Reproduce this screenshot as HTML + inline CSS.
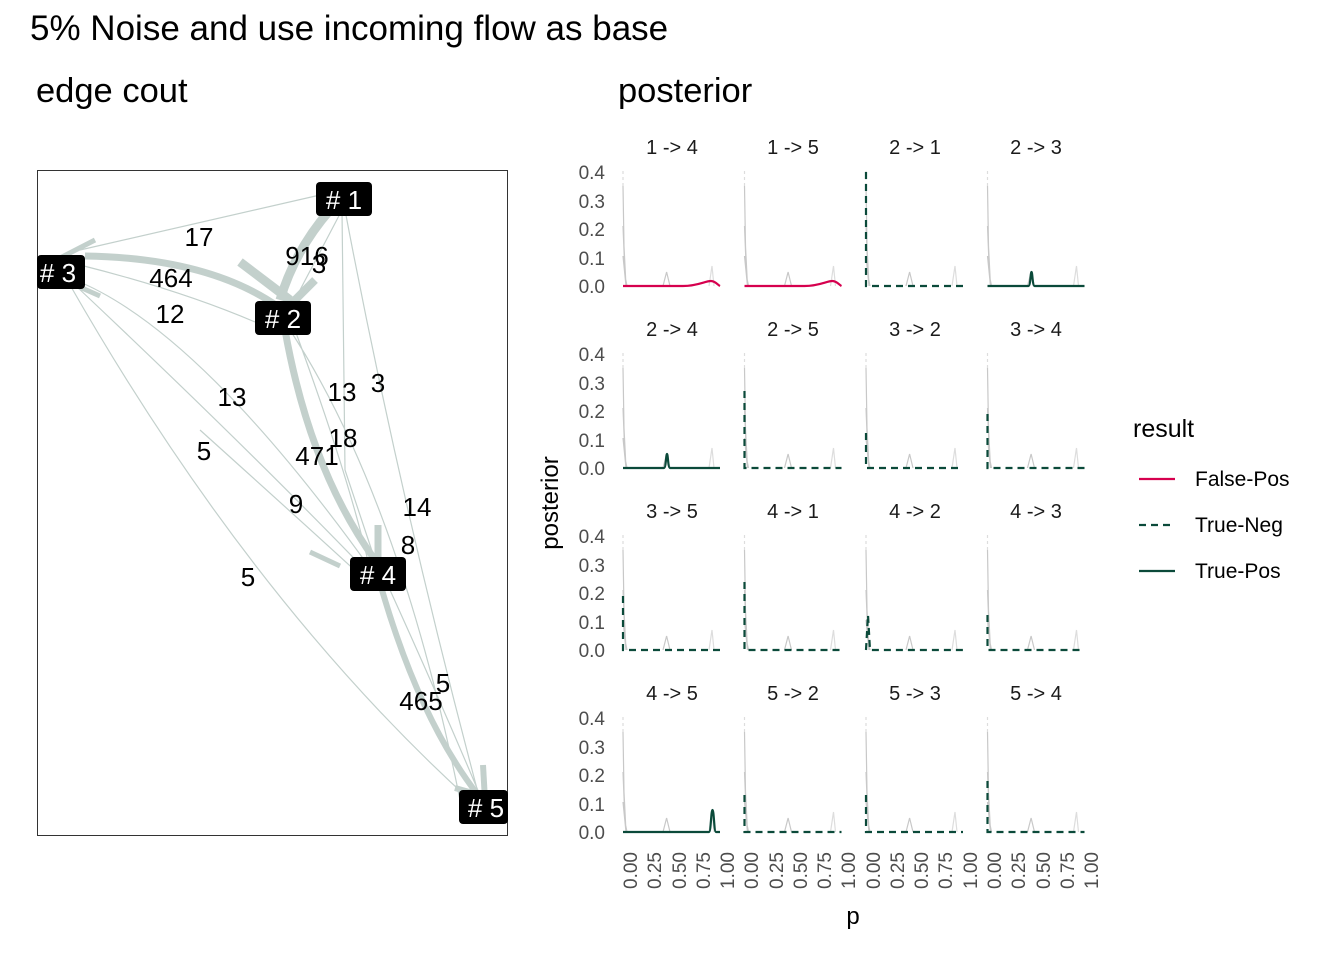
<!DOCTYPE html>
<html><head><meta charset="utf-8"><style>
body{margin:0;background:#fff}
svg{display:block;font-family:"Liberation Sans",Arial,sans-serif}
.t{fill:#4d4d4d;font-size:19px}
.s{fill:#1a1a1a;font-size:20px}
.e{fill:none;stroke:#c3d0cc}
.nl{fill:#000;font-size:26px}
</style></head><body>
<svg width="1344" height="960" viewBox="0 0 1344 960">
<defs>
<g id="bg" fill="none" stroke="#c8c8c8" stroke-width="1.2">
<path d="M0,-115 L0,-100" stroke-dasharray="3,3" stroke="#ddd"/>
<path d="M0,-100 L1,-40 L3,0 M0,-60 L2,-10 L4,0 M0,-30 L3,0"/>
<path d="M40,0 L43.6,-14 L47,0"/>
<path d="M86,0 L89,-20 L91,0" stroke="#ddd"/>
</g>
</defs>
<text x="30" y="40" font-size="35" fill="#000">5% Noise and use incoming flow as base</text>
<text x="36" y="102" font-size="34.5" fill="#000">edge cout</text>
<text x="618" y="102" font-size="34.5" fill="#000">posterior</text>

<!-- network -->
<rect x="37.5" y="170.5" width="470" height="665" fill="none" stroke="#333" stroke-width="1"/>
<g>
<path class="e" stroke-width="7" d="M85,256 Q210,258 280,308"/>
<path class="e" stroke-width="9" d="M330,210 Q295,250 280,300"/>
<path class="e" stroke-width="7" d="M285,330 Q310,470 375,560"/>
<path class="e" stroke-width="6" d="M382,590 Q420,720 478,795"/>
<path class="e" stroke-width="1.2" d="M80,250 L320,195 M80,265 Q180,290 255,322 M75,280 Q200,330 375,575 M75,285 Q250,450 375,580 M70,285 Q250,600 470,800 M342,210 L345,470 L375,560 M345,210 Q400,500 480,800 M290,330 Q400,500 460,800 M295,330 Q350,480 370,570 M200,430 Q300,520 360,575 M390,590 Q440,700 482,800 M342,210 L300,290"/>
<path class="e" stroke-width="9" d="M240,262 L290,300"/>
<path class="e" stroke-width="8" d="M315,280 L290,305"/>
<path class="e" stroke-width="7" d="M378,525 L378,560"/>
<path class="e" stroke-width="6" d="M455,788 L480,795"/>
<path class="e" stroke-width="6" d="M483,765 L485,800"/>
<path class="e" stroke-width="5" d="M95,240 L60,258 M100,296 L75,285 M340,566 L310,552"/>
</g>
<g>
<rect x="316" y="182" width="56" height="34" rx="4" fill="#000"/><text x="344" y="209" fill="#fff" font-size="26" text-anchor="middle"># 1</text>
<rect x="255" y="301" width="56" height="34" rx="4" fill="#000"/><text x="283" y="328" fill="#fff" font-size="26" text-anchor="middle"># 2</text>
<rect x="37" y="255" width="48" height="34" rx="4" fill="#000"/><text x="58" y="282" fill="#fff" font-size="26" text-anchor="middle"># 3</text>
<rect x="350" y="557" width="56" height="34" rx="4" fill="#000"/><text x="378" y="584" fill="#fff" font-size="26" text-anchor="middle"># 4</text>
<rect x="459" y="790" width="49" height="34" rx="4" fill="#000"/><text x="486" y="817" fill="#fff" font-size="26" text-anchor="middle"># 5</text>
</g>
<g class="nl" text-anchor="middle">
<text x="199" y="246">17</text><text x="307" y="265">916</text><text x="319" y="273">3</text>
<text x="171" y="287">464</text><text x="170" y="323">12</text>
<text x="232" y="406">13</text><text x="342" y="401">13</text><text x="378" y="392">3</text>
<text x="204" y="460">5</text><text x="343" y="447">18</text><text x="317" y="465">471</text>
<text x="296" y="513">9</text><text x="417" y="516">14</text><text x="408" y="554">8</text>
<text x="248" y="586">5</text><text x="443" y="692">5</text><text x="421" y="710">465</text>
</g>

<!-- facets -->
<g class="s" text-anchor="middle">
<text x="672" y="154">1 -&gt; 4</text><text x="793" y="154">1 -&gt; 5</text><text x="915" y="154">2 -&gt; 1</text><text x="1036" y="154">2 -&gt; 3</text>
<text x="672" y="336">2 -&gt; 4</text><text x="793" y="336">2 -&gt; 5</text><text x="915" y="336">3 -&gt; 2</text><text x="1036" y="336">3 -&gt; 4</text>
<text x="672" y="518">3 -&gt; 5</text><text x="793" y="518">4 -&gt; 1</text><text x="915" y="518">4 -&gt; 2</text><text x="1036" y="518">4 -&gt; 3</text>
<text x="672" y="700">4 -&gt; 5</text><text x="793" y="700">5 -&gt; 2</text><text x="915" y="700">5 -&gt; 3</text><text x="1036" y="700">5 -&gt; 4</text>
</g>
<g class="t" text-anchor="end">
<text x="605" y="179">0.4</text><text x="605" y="208">0.3</text><text x="605" y="236">0.2</text><text x="605" y="265">0.1</text><text x="605" y="293">0.0</text>
<text x="605" y="361">0.4</text><text x="605" y="390">0.3</text><text x="605" y="418">0.2</text><text x="605" y="447">0.1</text><text x="605" y="475">0.0</text>
<text x="605" y="543">0.4</text><text x="605" y="572">0.3</text><text x="605" y="600">0.2</text><text x="605" y="629">0.1</text><text x="605" y="657">0.0</text>
<text x="605" y="725">0.4</text><text x="605" y="754">0.3</text><text x="605" y="782">0.2</text><text x="605" y="811">0.1</text><text x="605" y="839">0.0</text>
</g>
<!-- panels -->
<g fill="none" stroke-width="2.2">
<g transform="translate(623,286)"><use href="#bg"/><path d="M0,0 L60,0 C75,0 82,-5 88,-5 C92,-5 95,-1 97,0" stroke="#d6004e"/></g>
<g transform="translate(744.5,286)"><use href="#bg"/><path d="M0,0 L60,0 C75,0 82,-5 88,-5 C92,-5 95,-1 97,0" stroke="#d6004e"/></g>
<g transform="translate(866,286)"><use href="#bg"/><path d="M0,-114 L0,0 L97,0" stroke="#0b4a3a" stroke-dasharray="7,5"/></g>
<g transform="translate(987.5,286)"><use href="#bg"/><path d="M0,0 L41,0 C43,0 43,-14 44,-14 C45,-14 45,0 47,0 L97,0" stroke="#0b4a3a"/></g>

<g transform="translate(623,468)"><use href="#bg"/><path d="M0,0 L41,0 C43,0 43,-14 44,-14 C45,-14 45,0 47,0 L97,0" stroke="#0b4a3a"/></g>
<g transform="translate(744.5,468)"><use href="#bg"/><path d="M0,-77 L0,0 L97,0" stroke="#0b4a3a" stroke-dasharray="7,5"/></g>
<g transform="translate(866,468)"><use href="#bg"/><path d="M0,-35 L0,0 L97,0" stroke="#0b4a3a" stroke-dasharray="7,5"/></g>
<g transform="translate(987.5,468)"><use href="#bg"/><path d="M0,-54 L0,0 L97,0" stroke="#0b4a3a" stroke-dasharray="7,5"/></g>

<g transform="translate(623,650)"><use href="#bg"/><path d="M0,-54 L0,0 L97,0" stroke="#0b4a3a" stroke-dasharray="7,5"/></g>
<g transform="translate(744.5,650)"><use href="#bg"/><path d="M0,-68 L0,0 L97,0" stroke="#0b4a3a" stroke-dasharray="7,5"/></g>
<g transform="translate(866,650)"><use href="#bg"/><path d="M0,0 L2,-35 L4,0 L97,0" stroke="#0b4a3a" stroke-dasharray="7,5"/></g>
<g transform="translate(987.5,650)"><use href="#bg"/><path d="M0,-35 L0,0 L97,0" stroke="#0b4a3a" stroke-dasharray="7,5"/></g>

<g transform="translate(623,832)"><use href="#bg"/><path d="M0,0 L86,0 C88,0 88,-22 89.5,-22 C91,-22 91,0 93,0 L97,0" stroke="#0b4a3a"/></g>
<g transform="translate(744.5,832)"><use href="#bg"/><path d="M0,-37 L0,0 L97,0" stroke="#0b4a3a" stroke-dasharray="7,5"/></g>
<g transform="translate(866,832)"><use href="#bg"/><path d="M0,-37 L0,0 L97,0" stroke="#0b4a3a" stroke-dasharray="7,5"/></g>
<g transform="translate(987.5,832)"><use href="#bg"/><path d="M0,-51 L0,0 L97,0" stroke="#0b4a3a" stroke-dasharray="7,5"/></g>
</g>
<!-- x ticks -->
<g class="t" text-anchor="end">
<text transform="translate(637,852) rotate(-90)">0.00</text><text transform="translate(661,852) rotate(-90)">0.25</text><text transform="translate(686,852) rotate(-90)">0.50</text><text transform="translate(710,852) rotate(-90)">0.75</text><text transform="translate(734,852) rotate(-90)">1.00</text>
<text transform="translate(758,852) rotate(-90)">0.00</text><text transform="translate(783,852) rotate(-90)">0.25</text><text transform="translate(807,852) rotate(-90)">0.50</text><text transform="translate(831,852) rotate(-90)">0.75</text><text transform="translate(855,852) rotate(-90)">1.00</text>
<text transform="translate(880,852) rotate(-90)">0.00</text><text transform="translate(904,852) rotate(-90)">0.25</text><text transform="translate(928,852) rotate(-90)">0.50</text><text transform="translate(952,852) rotate(-90)">0.75</text><text transform="translate(977,852) rotate(-90)">1.00</text>
<text transform="translate(1001,852) rotate(-90)">0.00</text><text transform="translate(1025,852) rotate(-90)">0.25</text><text transform="translate(1050,852) rotate(-90)">0.50</text><text transform="translate(1074,852) rotate(-90)">0.75</text><text transform="translate(1098,852) rotate(-90)">1.00</text>
</g>
<text x="853" y="924" font-size="24" text-anchor="middle">p</text>
<text transform="translate(558,503) rotate(-90)" font-size="24" text-anchor="middle">posterior</text>
<!-- legend -->
<text x="1133" y="437" font-size="25">result</text>
<line x1="1139" y1="479" x2="1175" y2="479" stroke="#d6004e" stroke-width="2.2"/>
<line x1="1139" y1="525" x2="1175" y2="525" stroke="#0b4a3a" stroke-width="2.2" stroke-dasharray="7,5"/>
<line x1="1139" y1="571" x2="1175" y2="571" stroke="#0b4a3a" stroke-width="2.2"/>
<g font-size="21" fill="#000"><text x="1195" y="486">False-Pos</text><text x="1195" y="532">True-Neg</text><text x="1195" y="578">True-Pos</text></g>
</svg>
</body></html>
